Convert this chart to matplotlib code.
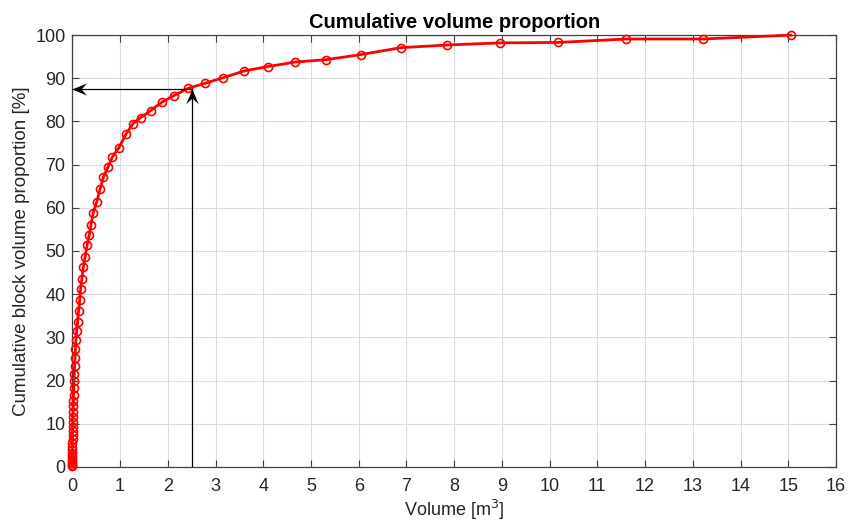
import numpy as np
import matplotlib
matplotlib.use('Agg')
import matplotlib.pyplot as plt
from matplotlib.path import Path

plt.rcParams['font.family'] = ['Liberation Sans', 'DejaVu Sans']

# block volume [m3] and cumulative volume proportion [%]
volume = [0.00002, 0.00007, 0.00015, 0.0003, 0.0005, 0.0008, 0.0012, 0.0017,
          0.0023, 0.003, 0.004, 0.005, 0.0065, 0.008, 0.010, 0.012, 0.015,
          0.018, 0.021, 0.025, 0.030, 0.035, 0.041, 0.048, 0.056, 0.065,
          0.075, 0.09, 0.11, 0.13, 0.155, 0.175, 0.20, 0.23, 0.265, 0.31,
          0.355, 0.39, 0.44, 0.51, 0.58, 0.65, 0.75, 0.84, 0.975, 1.12,
          1.27, 1.43, 1.64, 1.88, 2.13, 2.43, 2.77, 3.15, 3.60, 4.09, 4.66,
          5.31, 6.05, 6.89, 7.85, 8.95, 10.18, 11.61, 13.21, 15.05]
proportion = [0.1, 0.4, 0.8, 1.3, 1.9, 2.5, 3.2, 3.9, 4.7, 5.5, 6.4, 7.3,
              8.3, 9.3, 10.4, 11.5, 12.7, 14.0, 15.3, 16.7, 18.2, 19.8,
              21.5, 23.3, 25.2, 27.2, 29.3, 31.5, 33.6, 36.0, 38.7, 41.3,
              43.6, 46.2, 48.5, 51.4, 53.7, 56.0, 58.9, 61.3, 64.3, 67.1,
              69.5, 71.8, 73.9, 77.0, 79.5, 80.9, 82.5, 84.5, 86.0, 87.7,
              88.8, 90.1, 91.7, 92.7, 93.75, 94.3, 95.5, 97.1, 97.7, 98.2,
              98.3, 99.1, 99.1, 100.0]

v_mark = 2.5
p_mark = 87.5

# swept-back arrow heads (tip at the marker origin)
head_left = Path([(0, 0), (1, 0.42), (0.62, 0), (1, -0.42), (0, 0)])
head_up = Path([(0, 0), (0.42, -1), (0, -0.62), (-0.42, -1), (0, 0)])

fig = plt.figure(figsize=(8.61, 5.24), dpi=100)
ax = fig.add_axes([0.084, 0.109, 0.887, 0.824])

ax.plot(volume, proportion, color='red', lw=2.0, marker='o', ms=5.8,
        mfc='none', mec='red', mew=1.2, clip_on=False, zorder=3)

ax.plot([v_mark, 0], [p_mark, p_mark], color='black', lw=0.9, zorder=4)
ax.plot([v_mark, v_mark], [0, p_mark], color='black', lw=0.9, zorder=4)
ax.plot([0], [p_mark], marker=head_left, ms=21, color='black', mew=0,
        clip_on=False, zorder=5)
ax.plot([v_mark], [p_mark], marker=head_up, ms=21, color='black', mew=0,
        zorder=5)

ax.set_xlim(0, 16)
ax.set_ylim(0, 100)
ax.set_xticks(np.arange(0, 17, 1))
ax.set_yticks(np.arange(0, 101, 10))
ax.grid(True, color='#dcdcdc', lw=0.8)
ax.set_axisbelow(True)
ax.tick_params(direction='in', top=True, right=True, labelsize=13,
               color='#404040', length=5, labelcolor='#262626')
ax.tick_params(axis='x', pad=8)
ax.tick_params(axis='y', pad=5)
for s in ax.spines.values():
    s.set_color('#404040')
    s.set_linewidth(0.9)

ax.set_title('Cumulative volume proportion', fontsize=14.5, fontweight='bold',
             pad=5)
ax.set_xlabel('Volume [m$^3$]', fontsize=13, color='#262626', labelpad=2)
ax.set_ylabel('Cumulative block volume proportion [%]', fontsize=13.5,
              color='#262626')

fig.savefig('out.png', dpi=100)
